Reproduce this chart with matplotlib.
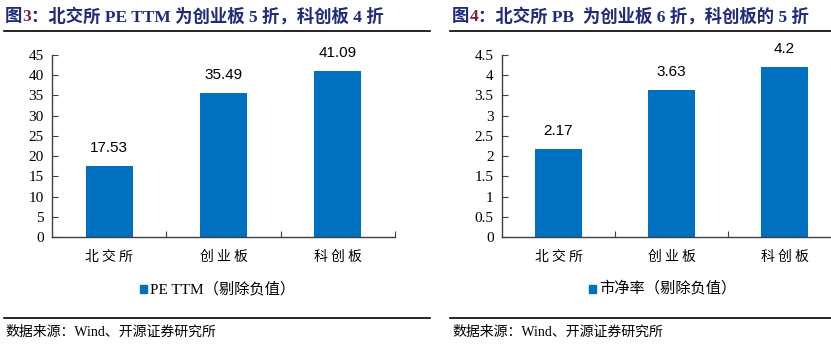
import matplotlib.pyplot as plt
from matplotlib.patches import Rectangle
from matplotlib.lines import Line2D

categories = ["北交所", "创业板", "科创板"]
pe_values = [17.53, 35.49, 41.09]
pb_values = [2.17, 3.63, 4.2]
pe_labels = ["17.53", "35.49", "41.09"]
pb_labels = ["2.17", "3.63", "4.2"]
pe_ticks = [0, 5, 10, 15, 20, 25, 30, 35, 40, 45]
pb_ticks = [0, 0.5, 1, 1.5, 2, 2.5, 3, 3.5, 4, 4.5]
pe_ticklabels = ["0", "5", "10", "15", "20", "25", "30", "35", "40", "45"]
pb_ticklabels = ["0", "0.5", "1", "1.5", "2", "2.5", "3", "3.5", "4", "4.5"]

BLUE = "#0070C0"
NAVY = "#1F2A7A"
MAROON = "#7B1E3A"
W, H = 831, 344

serif = ["Liberation Serif", "Noto Sans CJK SC"]
cjk = ["Noto Sans CJK SC", "DejaVu Sans"]

fig = plt.figure(figsize=(W / 100, H / 100), dpi=100)


def px(x, y):
    return x / W, 1 - y / H


def panel(x0, x1, values, labels, ticks, ticklabels, legend_text, legend_x):
    ax = fig.add_axes([x0 / W, 1 - 237 / H, (x1 - x0) / W, (237 - 55) / H])
    xs = range(len(categories))
    ax.bar(xs, values, width=0.41, color=BLUE)
    for x, v, lab in zip(xs, values, labels):
        ax.annotate(lab, (x, v), xytext=(0, 8), textcoords="offset points",
                    ha="center", va="bottom", fontsize=11,
                    family="Liberation Sans", color="black")
    ax.set_xlim(-0.5, len(categories) - 0.5)
    ax.set_ylim(ticks[0], ticks[-1])
    ax.set_yticks(ticks)
    ax.set_yticklabels(ticklabels, family="Liberation Serif", fontsize=11)
    ax.set_xticks([0.5, 1.5, 2.5], minor=False)
    ax.set_xticklabels([])
    ax.set_xticks(list(xs), minor=True)
    # spaced-out category labels like the original
    ax.set_xticklabels([" ".join(c) for c in categories], minor=True,
                       family=cjk, fontsize=10, fontweight="light")
    ax.tick_params(axis="y", direction="in", length=4, width=0.8, pad=6,
                   color="#404040")
    ax.tick_params(axis="x", which="major", direction="in", length=4,
                   width=0.8, color="#404040")
    ax.tick_params(axis="x", which="minor", length=0, pad=9)
    for s in ["top", "right"]:
        ax.spines[s].set_visible(False)
    for s in ["left", "bottom"]:
        ax.spines[s].set_color("#404040")
        ax.spines[s].set_linewidth(1.0)
    # legend
    lx, ly = legend_x, 289
    fig.patches.append(Rectangle(px(lx, ly + 4), 7 / W, 8 / H,
                                 transform=fig.transFigure, color=BLUE))
    fig.text(*px(lx + 10, ly), legend_text, family=serif, fontsize=11,
             va="center", ha="left", fontweight="light")
    return ax


panel(52, 395, pe_values, pe_labels, pe_ticks, pe_ticklabels,
      "PE TTM（剔除负值）", 140)
panel(502, 841, pb_values, pb_labels, pb_ticks, pb_ticklabels,
      "市净率（剔除负值）", 589)

# title / source rules
for xa, xb in [(4, 430), (450, 831)]:
    for y in (31, 318):
        fig.add_artist(Line2D([xa / W, xb / W], [1 - y / H, 1 - y / H],
                              transform=fig.transFigure, color="black",
                              linewidth=1.2))

renderer = fig.canvas.get_renderer()


def title(x, parts):
    for txt, col in parts:
        t = fig.text(*px(x, 17), txt, family=serif, fontsize=12.5,
                     fontweight="bold", color=col, va="center", ha="left")
        x += t.get_window_extent(renderer).width


title(5, [("图", NAVY), ("3", MAROON), ("：北交所 PE TTM 为创业板 5 折，科创板 4 折", NAVY)])
title(452, [("图", NAVY), ("4", MAROON), ("：北交所 PB  为创业板 6 折，科创板的 5 折", NAVY)])

for x in (5, 452):
    fig.text(*px(x, 332), "数据来源：Wind、开源证券研究所", family=serif,
             fontsize=10, va="center", ha="left", fontweight="light")

fig.savefig("out.png", dpi=100)
